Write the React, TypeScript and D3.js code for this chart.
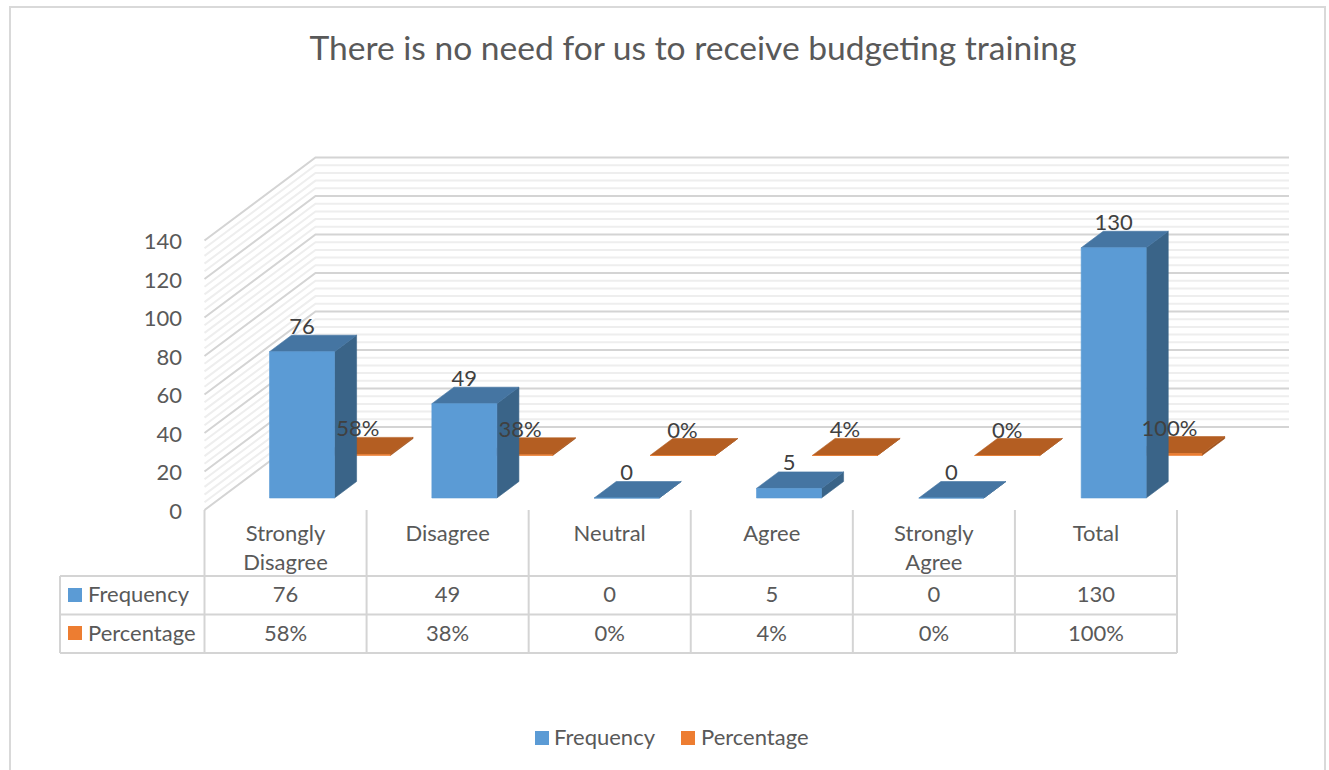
import React from "react";
import * as d3 from "d3";

const title = "There is no need for us to receive budgeting training";
const categories = ["Strongly Disagree", "Disagree", "Neutral", "Agree", "Strongly Agree", "Total"];
const categoryLines = [["Strongly", "Disagree"], ["Disagree"], ["Neutral"], ["Agree"], ["Strongly", "Agree"], ["Total"]];
const frequency = [76, 49, 0, 5, 0, 130];
const percentage = [0.58, 0.38, 0, 0.04, 0, 1];
const percentLabels = ["58%", "38%", "0%", "4%", "0%", "100%"];
const yTicks = [0, 20, 40, 60, 80, 100, 120, 140];
const minorTicks = d3.range(0, 140, 4).filter((v) => v % 20 !== 0);

const FONT = "Lato, 'Open Sans', sans-serif";
const GRID = "#d4d4d4";
const MINOR = "#eeeeee";
const TEXT = "#595959";
const LABEL = "#404040";

const x = d3.scaleBand<string>().domain(categories).range([204.5, 1177]);
const xBars = d3.scaleBand<string>().domain(categories).range([204.8, 1178.8]);
const y = d3.scaleLinear().domain([0, 140]).range([0, 269.5]);
const FLOOR = 510;
const DEPTH_X = 111 / 83;
const BAR = 65;
const ORANGE_SHIFT = -1;

const project = (px: number, depth: number, value: number): [number, number] => [
  px + depth * DEPTH_X,
  FLOOR - depth - y(value),
];
const poly = (pts: [number, number][]) => pts.map((p) => p.join(",")).join(" ");

function Bar({ cat, value, d0, d1, shift = 0, front, top, side }: any) {
  const l = xBars(cat)! + xBars.bandwidth() / 2 - BAR / 2 + shift;
  const r = l + BAR;
  const fbl = project(l, d0, 0), fbr = project(r, d0, 0), ftl = project(l, d0, value), ftr = project(r, d0, value);
  const bbr = project(r, d1, 0), btl = project(l, d1, value), btr = project(r, d1, value);
  return (
    <g strokeWidth={0.6} strokeLinejoin="round">
      <polygon points={poly([fbr, bbr, btr, ftr])} fill={side} stroke={side} />
      <polygon points={poly([ftl, ftr, btr, btl])} fill={top} stroke={top} />
      <polygon points={poly([fbl, fbr, ftr, ftl])} fill={front} stroke={front} />
    </g>
  );
}

export default function App() {
  const tableRows = [576, 614.5, 653];
  const cols = [...categories.map((c) => x(c)!), x.range()[1]];
  const wall = (v: number, color: string, w: number, key: string) => {
    const a = project(204.5, 0, v), b = project(204.5, 83, v);
    return <polyline key={key} points={poly([a, b, [1289, b[1]]])} fill="none" stroke={color} strokeWidth={w} />;
  };
  return (
    <svg width={1329} height={770} style={{ position: "absolute", left: 0, top: 0, display: "block" }} fontFamily={FONT}>
      <rect width={1329} height={770} fill="#fff" />
      <path d="M10,770V7H1325V770" fill="none" stroke="#d9d9d9" strokeWidth={2} />
      <text x={693} y={60} textAnchor="middle" fontSize={33.6} fill={TEXT}>{title}</text>

      {minorTicks.map((v) => wall(v, MINOR, 2, `m${v}`))}
      {yTicks.map((v) => wall(v, GRID, 2, `M${v}`))}
      {yTicks.map((v) => (
        <text key={v} x={182} y={FLOOR - y(v) + 8.5} textAnchor="end" fontSize={22} fill={TEXT}>{v}</text>
      ))}

      {categories.map((c, i) => (
        <Bar key={c} cat={c} value={percentage[i]} d0={54.5} d1={71.5} shift={ORANGE_SHIFT} front="#ed7d31" top="#b45e22" side="#a0521c" />
      ))}
      {categories.map((c, i) => (
        <Bar key={c} cat={c} value={frequency[i]} d0={12} d1={28.5} front="#5b9bd5" top="#4575a2" side="#3a6488" />
      ))}
      {categories.map((c, i) => {
        const cx = xBars(c)! + xBars.bandwidth() / 2;
        const blue = project(cx, 12, frequency[i]);
        const orange = project(cx + ORANGE_SHIFT, 54.5, percentage[i]);
        return (
          <g key={c} fontSize={22} fill={LABEL} textAnchor="middle">
            <text x={blue[0]} y={blue[1] - 18}>{frequency[i]}</text>
            <text x={orange[0]} y={orange[1] - 18}>{percentLabels[i]}</text>
          </g>
        );
      })}

      <g stroke={GRID} strokeWidth={2} fill="none">
        {cols.map((cx, i) => <line key={i} x1={cx} x2={cx} y1={FLOOR} y2={653} />)}
        {tableRows.map((r) => <line key={r} x1={60} x2={1177} y1={r} y2={r} />)}
        <line x1={60} x2={60} y1={576} y2={653} />
      </g>
      <g fontSize={22} fill={TEXT} textAnchor="middle">
        {categories.map((c, i) => {
          const cx = x(c)! + x.bandwidth() / 2;
          return (
            <g key={c}>
              {categoryLines[i].map((t, j) => <text key={t} x={cx} y={541 + j * 29}>{t}</text>)}
              <text x={cx} y={602}>{frequency[i]}</text>
              <text x={cx} y={641}>{percentLabels[i]}</text>
            </g>
          );
        })}
      </g>
      <rect x={68} y={588} width={14} height={14} fill="#5b9bd5" />
      <rect x={68} y={626} width={14} height={14} fill="#ed7d31" />
      <text x={88} y={602} fontSize={22} fill={TEXT}>Frequency</text>
      <text x={88} y={641} fontSize={22} fill={TEXT}>Percentage</text>

      <rect x={535} y={731} width={14} height={14} fill="#5b9bd5" />
      <text x={554} y={745} fontSize={22} fill={TEXT}>Frequency</text>
      <rect x={681} y={731} width={14} height={14} fill="#ed7d31" />
      <text x={701} y={745} fontSize={22} fill={TEXT}>Percentage</text>
    </svg>
  );
}
